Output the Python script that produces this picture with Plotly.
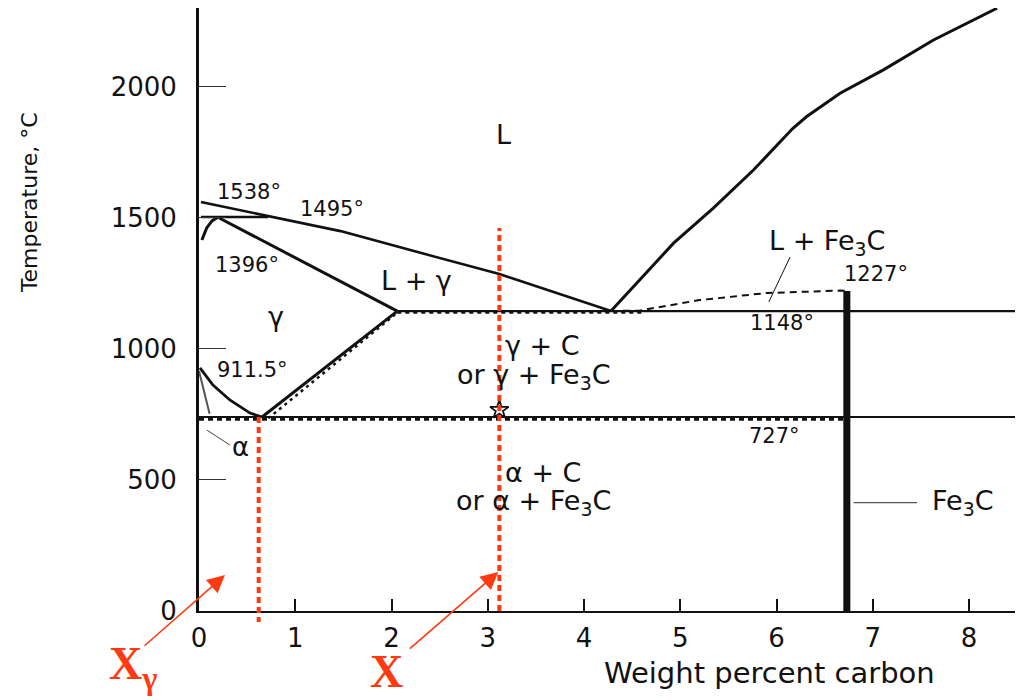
import plotly.graph_objects as go

# ---------------- data (wt% C, temperature in °C) ----------------
X_MAX = 8.56
T_MAX = 2300

x_ticks = [0, 1, 2, 3, 4, 5, 6, 7, 8]
t_ticks = [0, 500, 1000, 1500, 2000]

liq_left_x = [0.02, 0.72, 1.47, 2.30, 3.12, 4.28]
liq_left_t = [1560, 1507, 1449, 1366, 1285, 1144]

liq_right_x = [4.28, 4.93, 5.34, 5.76, 6.17, 6.31, 6.66, 7.11, 7.63, 8.29]
liq_right_t = [1144, 1403, 1536, 1682, 1841, 1885, 1975, 2064, 2178, 2299]

peritectic_x = [0.02, 0.72]
peritectic_t = [1503, 1503]

delta_x = [0.03, 0.08, 0.135, 0.20]
delta_t = [1415, 1461, 1488, 1503]

solidus_x = [0.21, 2.06]
solidus_t = [1499, 1144]

eutectic_x = [2.06, X_MAX]
eutectic_t = [1144, 1144]
eutectic_g_x = [2.06, 4.60]
eutectic_g_t = [1138, 1138]

a3_x = [0.01, 0.145, 0.32, 0.53, 0.655]
a3_t = [927, 862, 805, 755, 740]

acm_x = [0.655, 2.06]
acm_t = [740, 1144]
acm_g_x = [0.72, 2.06]
acm_g_t = [735, 1138]

alpha_x = [0.0, 0.11]
alpha_t = [915, 752]

eutectoid_x = [0.0, X_MAX]
eutectoid_t = [740, 740]
eutectoid_g_x = [0.0, 6.70]
eutectoid_g_t = [731, 731]

cem_liq_x = [4.28, 4.58, 5.20, 5.90, 6.66, 6.73]
cem_liq_t = [1144, 1146, 1186, 1213, 1222, 1221]

fe3c_x = [6.73, 6.73]
fe3c_t = [0, 1221]

lead_l_fe3c_x = [6.14, 5.92]
lead_l_fe3c_t = [1350, 1179]
lead_fe3c_x = [6.80, 7.46]
lead_fe3c_t = [413, 413]
lead_alpha_x = [0.083, 0.32]
lead_alpha_t = [690, 633]

x_gamma = 0.62
x_gamma_t = [740, -42]
x_alloy = 3.12
x_alloy_t = [0, 1461]
star_t = 767

# arrow heads (x, T) and tail offsets in px
arrow_heads = [(0.27, 137), (3.11, 149)]
arrow_tails = [(-82, 72), (-90, 78)]

# text labels: (text, x, T, anchor, size)
labels = [
    ("L", 3.16, 1816, "center", 27),
    ("1538°", 0.17, 1599, "left", 21),
    ("1495°", 1.03, 1533, "left", 21),
    ("1396°", 0.15, 1320, "left", 21),
    ("γ", 0.80, 1125, "center", 27),
    ("911.5°", 0.17, 919, "left", 21),
    ("L + γ", 1.87, 1259, "left", 27),
    ("γ + C", 3.16, 1011, "left", 27),
    ("or γ + Fe<sub>3</sub>C", 2.66, 893, "left", 27),
    ("L + Fe<sub>3</sub>C", 5.90, 1406, "left", 27),
    ("1227°", 6.68, 1287, "left", 21),
    ("1148°", 5.70, 1097, "left", 21),
    ("727°", 5.69, 666, "left", 21),
    ("α", 0.32, 626, "left", 26),
    ("α + C", 3.16, 530, "left", 27),
    ("or α + Fe<sub>3</sub>C", 2.65, 412, "left", 27),
    ("Fe<sub>3</sub>C", 7.59, 412, "left", 27),
]

# labels lying outside the axes (x, T)
xgamma_label_pos = (-0.96, -215)
x_label_pos = (1.76, -229)
ytitle_pos = (-1.76, 1558)
xtitle_pos = (5.93, -236)

# ---------------- figure ----------------
BLACK = "#111111"
RED = "#FF3A10"
FONT = "DejaVu Sans"

fig = go.Figure()


def line(x, t, width=3.0, dash=None, color=BLACK):
    fig.add_trace(go.Scatter(x=x, y=t, mode="lines",
                             line=dict(color=color, width=width, dash=dash),
                             hoverinfo="skip", showlegend=False))


line(liq_left_x, liq_left_t, 2.6)
line(liq_right_x, liq_right_t, 3.0)
line(peritectic_x, peritectic_t, 2.6)
line(delta_x, delta_t, 3.0)
line(solidus_x, solidus_t, 3.0)
line(eutectic_x, eutectic_t, 2.2)
line(eutectic_g_x, eutectic_g_t, 2.0, "4px,4px")
line(a3_x, a3_t, 2.8)
line(acm_x, acm_t, 3.0)
line(acm_g_x, acm_g_t, 2.5, "3px,4px")
line(alpha_x, alpha_t, 2.0, color="#555")
line(eutectoid_x, eutectoid_t, 2.2)
line(eutectoid_g_x, eutectoid_g_t, 2.6, "5px,4px")
line(cem_liq_x, cem_liq_t, 2.0, "7px,5px")
line(fe3c_x, fe3c_t, 7.0)
line(lead_l_fe3c_x, lead_l_fe3c_t, 1.0)
line(lead_fe3c_x, lead_fe3c_t, 1.2, color="#555")
line(lead_alpha_x, lead_alpha_t, 1.0, color="#444")


def px(x):
    return x / X_MAX


def py(t):
    return t / T_MAX


# red composition markers
fig.add_shape(type="line", xref="x", yref="paper",
              x0=x_gamma, x1=x_gamma, y0=py(x_gamma_t[0]), y1=py(x_gamma_t[1]),
              line=dict(color=RED, width=4, dash="6px,4px"))
fig.add_shape(type="line", xref="x", yref="paper",
              x0=x_alloy, x1=x_alloy, y0=py(x_alloy_t[0]), y1=py(x_alloy_t[1]),
              line=dict(color=RED, width=4, dash="6px,4px"))

fig.add_trace(go.Scatter(x=[x_alloy], y=[star_t], mode="markers",
                         marker=dict(symbol="star-open", size=14, color=BLACK,
                                     line=dict(width=1.8, color=BLACK)),
                         hoverinfo="skip", showlegend=False))

ann = []
for text, x, t, anchor, size in labels:
    ann.append(dict(text=text, x=x, y=t, xref="x", yref="y", showarrow=False,
                    xanchor=anchor, yanchor="middle",
                    font=dict(family=FONT, size=size, color=BLACK)))

for (hx, ht), (ax, ay) in zip(arrow_heads, arrow_tails):
    ann.append(dict(text="", x=hx, y=ht, xref="x", yref="y", ax=ax, ay=ay,
                    showarrow=True, arrowhead=2, arrowsize=2.2, arrowwidth=1.6,
                    arrowcolor=RED))

ann.append(dict(text="<b>X<sub>γ</sub></b>", x=px(xgamma_label_pos[0]), y=py(xgamma_label_pos[1]),
                xref="paper", yref="paper", xanchor="left", yanchor="middle", showarrow=False,
                font=dict(family="Liberation Serif", size=46, color=RED)))
ann.append(dict(text="<b>X</b>", x=px(x_label_pos[0]), y=py(x_label_pos[1]),
                xref="paper", yref="paper", xanchor="left", yanchor="middle", showarrow=False,
                font=dict(family="Liberation Serif", size=46, color=RED)))

# axis titles
ann.append(dict(text="Temperature, °C", x=px(ytitle_pos[0]), y=py(ytitle_pos[1]),
                xref="paper", yref="paper", textangle=-90, showarrow=False,
                xanchor="center", yanchor="middle",
                font=dict(family=FONT, size=22, color=BLACK)))
ann.append(dict(text="Weight percent carbon", x=px(xtitle_pos[0]), y=py(xtitle_pos[1]),
                xref="paper", yref="paper", showarrow=False,
                xanchor="center", yanchor="middle",
                font=dict(family=FONT, size=29, color=BLACK)))

# the page body adds an 8 px offset, so the figure is 8 px smaller each way
fig.update_layout(
    width=1015, height=692,
    margin=dict(l=191, r=0, t=0, b=89, autoexpand=False),
    paper_bgcolor="white", plot_bgcolor="white",
    annotations=ann,
    showlegend=False,
    xaxis=dict(range=[0, X_MAX], tickvals=x_ticks, showgrid=False, zeroline=False,
               automargin=False,
               showline=True, linecolor=BLACK, linewidth=2,
               ticks="inside", ticklen=12, tickwidth=2, tickcolor=BLACK,
               tickfont=dict(family=FONT, size=26, color=BLACK), ticklabelstandoff=3),
    yaxis=dict(range=[0, T_MAX], tickvals=t_ticks, showgrid=False, zeroline=False,
               automargin=False,
               showline=True, linecolor=BLACK, linewidth=3,
               ticks="inside", ticklen=27, tickwidth=1, tickcolor="#333",
               tickfont=dict(family=FONT, size=26, color=BLACK), ticklabelstandoff=14),
)

fig.write_html("out.html")
